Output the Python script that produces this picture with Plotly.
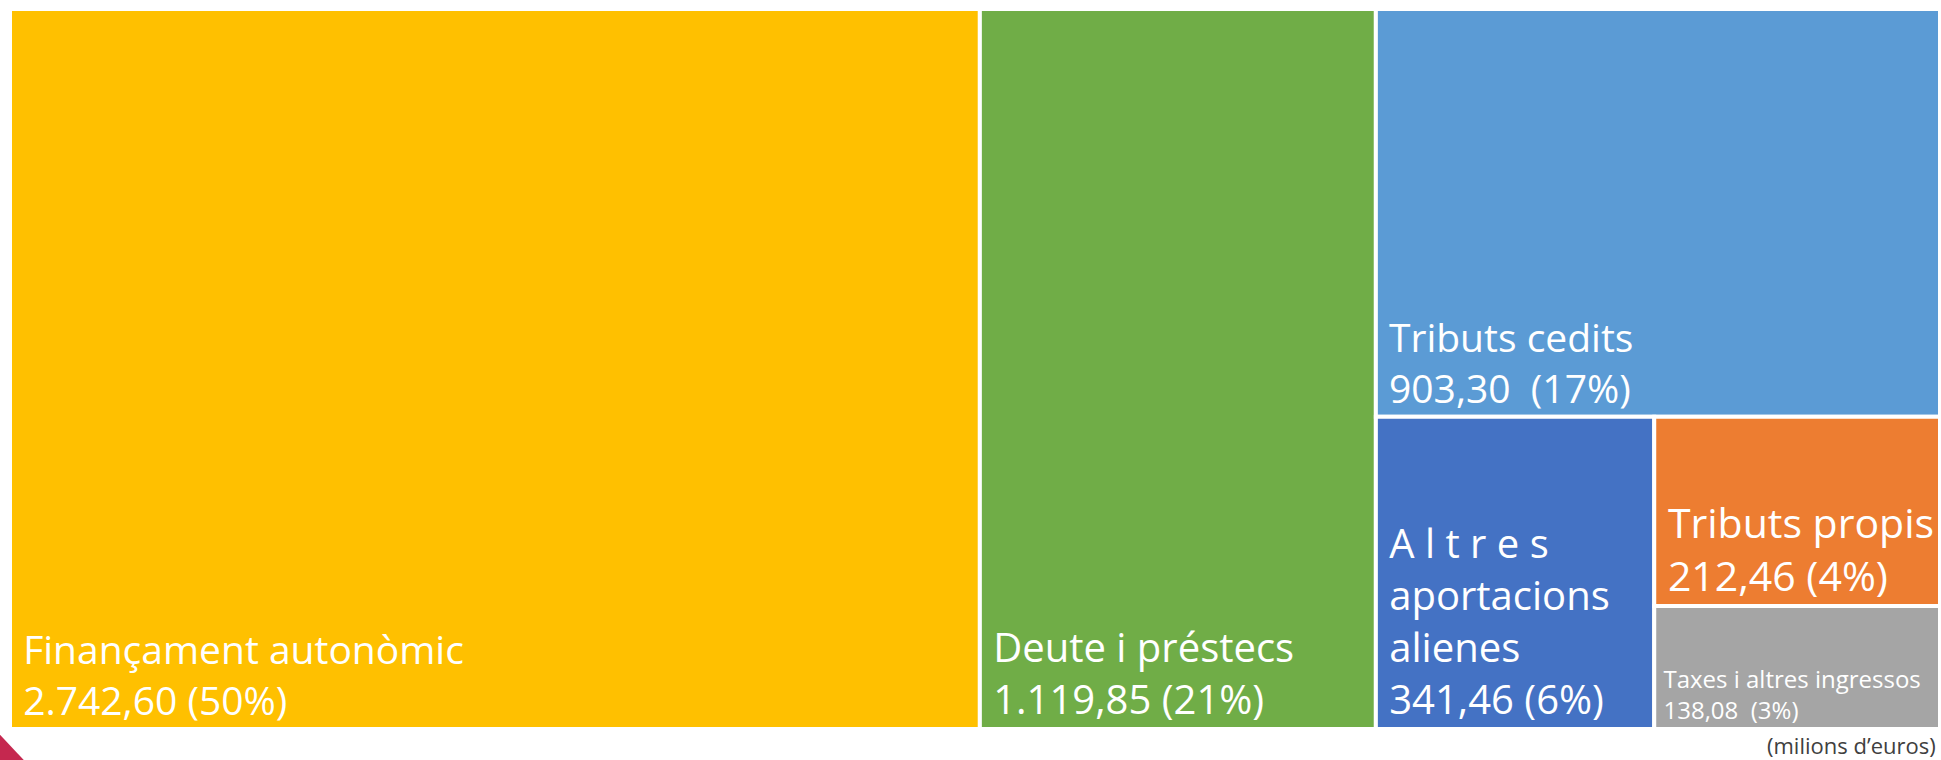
import plotly.graph_objects as go

labels = ["Finançament autonòmic", "Deute i préstecs", "Tributs cedits",
          "A l t r e s<br>aportacions<br>alienes", "Tributs propis", "Taxes i altres ingressos"]
values = [2742.60, 1119.85, 903.30, 341.46, 212.46, 138.08]
colors = ["#FFC000", "#70AD47", "#5B9BD5", "#4472C4", "#ED7D31", "#A5A5A5"]
font_sizes = [39, 40, 39, 40, 41, 24]
value_gaps = [" ", " ", "  ", " ", " ", "  "]

NB = "\u00a0"
ids = ["root"] + ["s%d" % i for i in range(len(labels))]
all_labels = [""] + [l.replace("<br>", "<br>" + NB) for l in labels]
parents = [""] + ["root"] * len(labels)
all_values = [sum(values)] + values
all_colors = ["white"] + colors
all_sizes = [10] + font_sizes
texttemplates = [""] + [NB + "%{label}<br>" + NB + "%{value:,.2f}" + g + "(%{percentRoot:.0%})" for g in value_gaps]

fig = go.Figure(go.Treemap(
    ids=ids,
    labels=all_labels,
    parents=parents,
    values=all_values,
    branchvalues="total",
    sort=True,
    tiling=dict(packing="squarify", squarifyratio=1, pad=0),
    marker=dict(colors=all_colors, line=dict(color="white", width=4), pad=dict(t=0, l=0, r=0, b=0)),
    texttemplate=texttemplates,
    textposition="bottom left",
    textfont=dict(family="Open Sans", color="white", size=all_sizes),
    pathbar=dict(visible=False),
    hoverinfo="skip",
    root=dict(color="white"),
))

fig.update_layout(
    width=1941, height=760,
    margin=dict(l=10, r=1, t=9, b=31),
    paper_bgcolor="white",
    separators=",.",
    annotations=[dict(
        text="(milions d’euros)", xref="paper", yref="paper",
        x=0.999, y=-0.0222, xanchor="right", yanchor="middle", showarrow=False,
        font=dict(family="Open Sans", size=22, color="#404040"),
    )],
    shapes=[dict(
        type="path", xref="paper", yref="paper",
        path="M -0.006 -0.0056 L 0.0078 -0.045 L -0.006 -0.045 Z",
        fillcolor="#C5284F", line=dict(width=0), layer="above",
    )],
)

fig.write_html("out.html", config={"displayModeBar": False},
               post_script="document.body.style.margin='0px';document.body.style.overflow='hidden';")
